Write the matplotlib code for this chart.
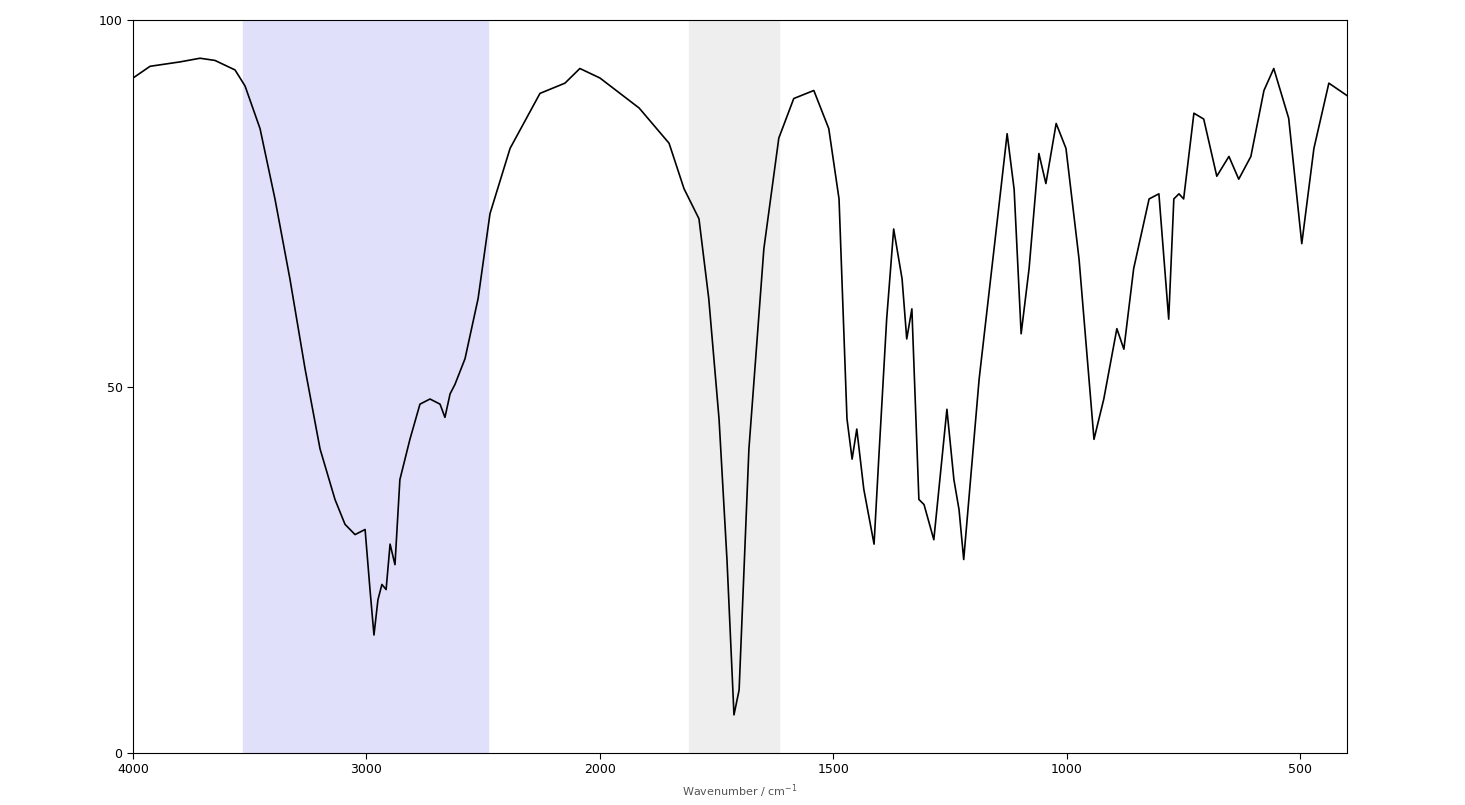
import matplotlib
matplotlib.use("Agg")
import matplotlib.pyplot as plt
import numpy as np

wavenumber = [4000,3927,3799,3713,3649,3563,3520,3456,3392,3328,3263,3199,3135,3092,3049,3006,2985,2968,2951,2934,2916,2899,2878,2857,2814,2771,2728,2685,2664,2642,2621,2578,2522,2471,2385,2257,2150,2086,2000,1916,1852,1820,1788,1767,1745,1728,1713,1702,1681,1649,1617,1585,1542,1510,1488,1471,1460,1450,1435,1413,1403,1386,1371,1353,1343,1332,1317,1306,1285,1257,1242,1231,1221,1188,1156,1128,1113,1098,1081,1060,1045,1023,1002,974,942,921,893,878,857,824,803,782,771,760,750,728,707,679,653,632,606,578,557,525,497,471,439,400]
transmittance = [92.1,93.7,94.3,94.8,94.5,93.2,91,85.2,75.6,64.7,52.4,41.5,34.6,31.2,29.8,30.5,22.3,16.1,20.9,23,22.3,28.5,25.7,37.3,42.8,47.6,48.3,47.6,45.8,49,50.3,53.8,62,73.6,82.5,90,91.4,93.4,92.1,88,83.2,77,72.9,62,45.6,26.4,5.2,8.6,41.5,68.8,83.9,89.3,90.4,85.2,75.6,45.6,40.1,44.2,36,28.5,40.1,59.2,71.5,64.7,56.5,60.6,34.6,33.9,29.1,46.9,37.3,33.2,26.4,51,68.8,84.5,76.9,57.2,66.1,81.8,77.7,85.9,82.5,67.4,42.8,48.3,57.9,55.1,66.1,75.6,76.3,59.2,75.6,76.3,75.6,87.3,86.5,78.7,81.4,78.3,81.4,90.4,93.4,86.6,69.5,82.5,91.4,89.7]
x_ticks = [4000, 3000, 2000, 1500, 1000, 500]
y_ticks = [0, 50, 100]
blue_band = (3530, 2480)
grey_band = (1810, 1617)

def fwd(x):
    x = np.asarray(x, dtype=float)
    return np.where(x <= 2000, x, 2000 + (x - 2000) / 2)

def inv(u):
    u = np.asarray(u, dtype=float)
    return np.where(u <= 2000, u, 2000 + (u - 2000) * 2)

fig = plt.figure(figsize=(14.65, 8.05), dpi=100)
ax = fig.add_axes([0.0908, 0.0646, 0.8287, 0.9104])
ax.set_xscale('function', functions=(fwd, inv))
ax.axvspan(*blue_band, color='#e0e0fb', zorder=0)
ax.axvspan(*grey_band, color='#eeeeee', zorder=0)
ax.plot(wavenumber, transmittance, color='black', lw=1.2)
ax.set_xlim(4000, 400)
ax.set_ylim(0, 100)
ax.set_xticks(x_ticks)
ax.set_xticklabels([str(t) for t in x_ticks], fontsize=9)
ax.set_xticks([], minor=True)
ax.set_yticks(y_ticks)
ax.set_yticklabels([str(t) for t in y_ticks], fontsize=9)
ax.tick_params(direction='out', length=4)
ax.set_xlabel('Wavenumber / cm$^{-1}$', fontsize=8, color='#555555', labelpad=4)
fig.savefig('out.png', dpi=100)
